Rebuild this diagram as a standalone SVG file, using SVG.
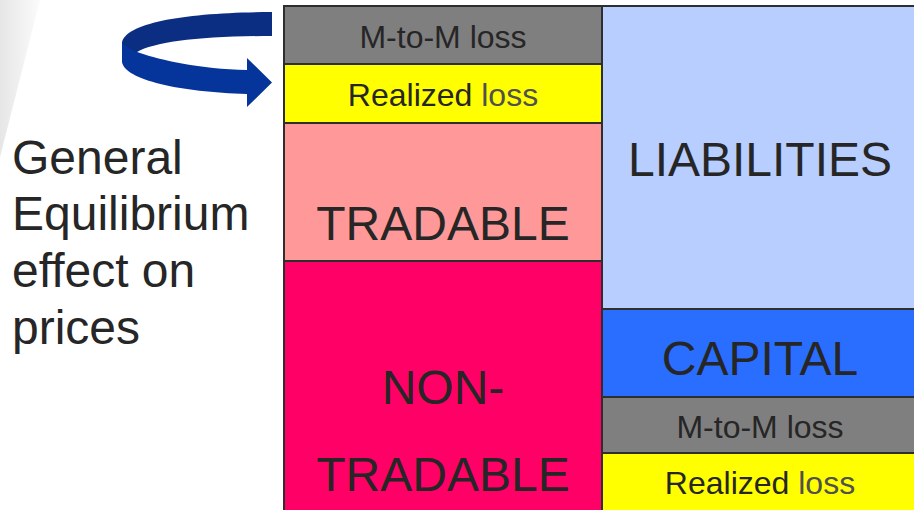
<svg xmlns="http://www.w3.org/2000/svg" width="914" height="510" viewBox="0 0 914 510">
<defs>
<linearGradient id="wedge" x1="0" y1="0" x2="1" y2="0">
<stop offset="0" stop-color="#e6e6e6"/>
<stop offset="1" stop-color="#fbfbfb"/>
</linearGradient>
<style>
.box{stroke:#2e2e2e;stroke-width:2}
.t{font-family:"Liberation Sans",Arial,sans-serif;fill:#262626;text-anchor:middle}
.s{font-size:32px}
.b{font-size:48px}
.g{fill:#505050}
.side{font-family:"Liberation Sans",Arial,sans-serif;fill:#262626;font-size:48px}
</style>
</defs>
<rect width="914" height="510" fill="#ffffff"/>
<polygon points="0,0 40,0 0,157" fill="url(#wedge)"/>

<g id="arrow">
<path d="M272,12 C190,12 125,22 122,43 L122,60 L137,52 C155,42 200,36 272,36 Z" fill="#0b2e82"/>
<path d="M122,43 C128,48 133,51 140,53 C160,60 200,69 247,70 L247,58 L272,82.5 L247,107 L247,94 C180,92 125,80 122,62 Z" fill="#05359b"/>
</g>

<g id="side-label">
<text class="side" x="12" y="173.5">General</text>
<text class="side" x="12" y="230">Equilibrium</text>
<text class="side" x="12" y="287">effect on</text>
<text class="side" x="12" y="343.5">prices</text>
</g>

<g id="assets-mtm">
<rect class="box" x="284" y="6" width="318" height="58" fill="#7f7f7f"/>
<text class="t s" x="443" y="48">M-to-M loss</text>
</g>
<g id="assets-realized">
<rect class="box" x="284" y="64" width="318" height="59" fill="#ffff00"/>
<text class="t s" x="443" y="106">Realized <tspan class="g">loss</tspan></text>
</g>
<g id="tradable">
<rect class="box" x="284" y="123" width="318" height="138" fill="#ff9999"/>
<text class="t b" x="443" y="240">TRADABLE</text>
</g>
<g id="non-tradable">
<rect class="box" x="284" y="261" width="318" height="260" fill="#ff0066"/>
<text class="t b" x="443" y="404">NON-</text>
<text class="t b" x="443" y="490.5">TRADABLE</text>
</g>

<g id="liabilities">
<rect class="box" x="602" y="6" width="318" height="303" fill="#b8ceff"/>
<text class="t b" x="760" y="176">LIABILITIES</text>
</g>
<g id="capital">
<rect class="box" x="602" y="309" width="318" height="88" fill="#2a6eff"/>
<text class="t b" x="760" y="375">CAPITAL</text>
</g>
<g id="capital-mtm">
<rect class="box" x="602" y="397" width="318" height="56" fill="#7f7f7f"/>
<text class="t s" x="760" y="438">M-to-M loss</text>
</g>
<g id="capital-realized">
<rect class="box" x="602" y="453" width="318" height="68" fill="#ffff00"/>
<text class="t s" x="760" y="494">Realized <tspan class="g">loss</tspan></text>
</g>
<g id="connectors"></g>
</svg>
